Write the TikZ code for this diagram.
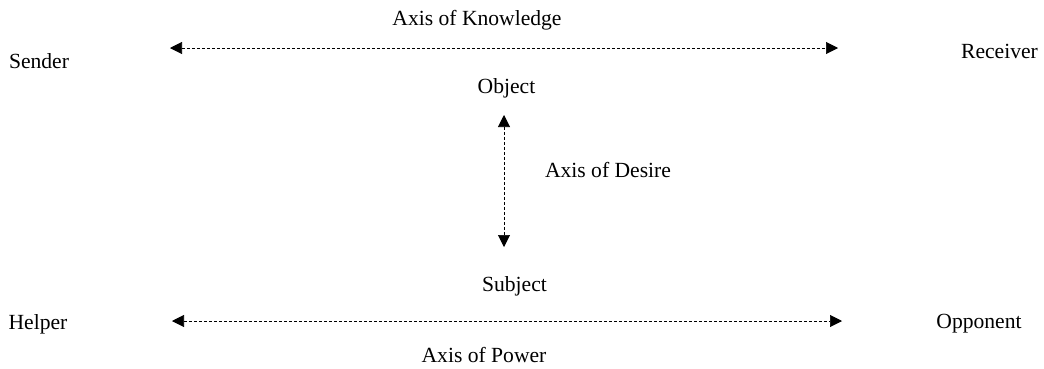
\documentclass[tikz,border=0pt]{standalone}
\usepackage{fontspec}
\setmainfont{Liberation Serif}
\usetikzlibrary{arrows.meta}
\begin{document}
\begin{tikzpicture}[x=1pt,y=-1pt,
  lbl/.style={font=\fontsize{21.6}{24}\selectfont, inner sep=0pt, anchor=base},
  axis/.style={densely dashed, line width=0.6pt, {Triangle[length=12pt,width=12pt]}-{Triangle[length=12pt,width=12pt]}}]
\useasboundingbox (0,0) rectangle (1044,368);
\node[lbl] (know) at (477,25) {Axis of Knowledge};
\node[lbl] (sender) at (39,68) {Sender};
\node[lbl] (receiver) at (999.5,58) {Receiver};
\node[lbl] (object) at (506.5,93) {Object};
\node[lbl] (desire) at (608,177) {Axis of Desire};
\node[lbl] (subject) at (514.5,291) {Subject};
\node[lbl] (helper) at (38,329) {Helper};
\node[lbl] (opponent) at (979,328) {Opponent};
\node[lbl] (power) at (484,362) {Axis of Power};
\coordinate (kL) at (170,48);
\coordinate (kR) at (838,48);
\coordinate (dT) at (504,115);
\coordinate (dB) at (504,247);
\coordinate (pL) at (172,321);
\coordinate (pR) at (842,321);
\draw[axis] (kL) -- (kR);
\draw[axis] (dT) -- (dB);
\draw[axis] (pL) -- (pR);
\end{tikzpicture}
\end{document}
